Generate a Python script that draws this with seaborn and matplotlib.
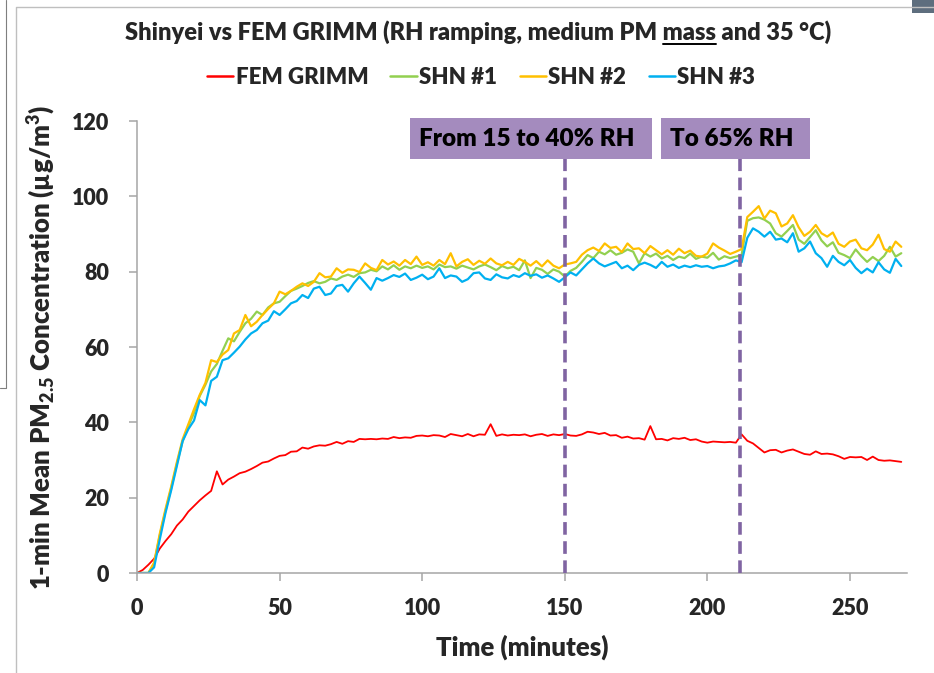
import numpy as np
import pandas as pd
import matplotlib
matplotlib.use("Agg")
import matplotlib.pyplot as plt
import seaborn as sns
from matplotlib.lines import Line2D
from matplotlib.patches import Rectangle

minutes = np.arange(0, 270, 2)

fem_grimm = [
    0, 0.8, 2.2, 3.8, 6.5, 8.5, 10.3, 12.6, 14.2, 16.3,
    17.8, 19.3, 20.6, 21.8, 27.0, 23.5, 24.8, 25.6, 26.5, 26.9,
    27.6, 28.4, 29.3, 29.6, 30.4, 31.1, 31.3, 32.2, 32.3, 33.3,
    33.0, 33.6, 33.9, 33.8, 34.2, 34.8, 34.3, 35.0, 34.8, 35.6,
    35.5, 35.6, 35.5, 35.7, 35.6, 36.1, 35.8, 36.0, 35.9, 36.4,
    36.5, 36.3, 36.6, 36.5, 36.1, 36.9, 36.6, 36.3, 36.9, 36.3,
    36.8, 36.7, 39.5, 36.4, 36.8, 36.5, 36.7, 36.6, 36.8, 36.3,
    36.7, 36.9, 36.4, 36.8, 36.6, 36.9, 36.5, 36.4, 36.8, 37.5,
    37.3, 36.9, 37.2, 36.5, 36.6, 35.9, 36.2, 35.7, 35.8, 35.4,
    39.0, 35.5, 35.6, 35.2, 35.8, 35.6, 35.9, 35.3, 35.5, 34.9,
    34.6, 34.9, 34.8, 34.7, 34.8, 34.6, 36.8, 35.1, 34.4, 33.2,
    32.0, 32.6, 32.7, 32.0, 32.5, 32.8, 32.2, 31.6, 31.4, 32.3,
    31.6, 31.7, 31.5, 31.0, 30.3, 30.8, 30.7, 30.8, 30.0, 30.9,
    30.0, 29.8, 29.9, 29.7, 29.5,
]

shn_1 = [
    0, 0, 0, 2.5, 10, 16.5, 22.5, 29, 35, 39,
    42.5, 47, 50, 53.5, 55.5, 59, 62.3, 61.5, 64, 66.3,
    67.5, 69.4, 68.5, 70.5, 71.6, 72, 73.5, 74.9, 75.5, 76.2,
    77, 77.5, 76.9, 77.3, 78.2, 77.8, 78.7, 79.2, 78.6, 79.6,
    79.8, 80.5, 80.1, 81.4, 80.6, 81.7, 80.5, 81.4, 80.9, 81.6,
    81.0, 81.4, 80.6, 81.9, 81.2, 81.4, 80.8, 81.6, 81.1, 80.6,
    81.4, 81.9, 81.2, 80.4, 81.5, 80.9, 81.3, 80.4, 83.0, 78.3,
    81.0, 80.5, 79.4, 80.6, 80.0, 78.7, 80.2, 81.0, 82.6, 84.4,
    83.6, 85.3, 84.6, 85.7, 84.5, 85.0, 85.9, 85.3, 82.2, 84.9,
    84.0, 84.8, 83.5, 84.2, 83.1, 84.0, 83.6, 84.8, 83.4, 84.0,
    83.7, 85.0, 83.2, 84.1, 83.6, 84.0, 84.4, 93.5, 94.2, 94.4,
    93.8, 92.8, 90.2, 89.3, 90.8, 92.4, 88.5, 87.4, 89.2, 91.0,
    88.3, 86.7, 87.8, 85.0, 84.4, 83.6, 85.9, 84.1, 82.6, 83.9,
    82.8, 84.2, 86.6, 84.0, 84.9,
]

shn_2 = [
    0, 0, 0, 2.8, 10.5, 17, 23, 29.5, 35.5, 39.5,
    43.5, 47.3, 50.5, 56.5, 56.0, 58.0, 59.2, 63.6, 64.5, 68.5,
    65.5, 66.7, 68.5, 70.1, 71.6, 74.7, 74.0, 74.9, 76.0, 76.9,
    76.2, 77.3, 79.6, 78.5, 78.7, 80.9, 79.7, 80.6, 80.5, 79.9,
    82.2, 81.0, 80.4, 83.1, 81.9, 82.7, 81.6, 83.1, 82.0, 84.0,
    81.8, 82.5, 81.6, 83.1, 82.0, 84.9, 81.4, 82.6, 83.3, 81.8,
    82.9, 82.1, 83.5, 82.2, 81.7, 82.6, 81.8, 83.4, 82.6, 81.6,
    82.8, 81.4, 83.0, 81.6, 80.9, 81.9, 82.2, 82.6, 84.5, 85.7,
    86.4, 85.5, 87.5, 86.3, 86.6, 85.2, 87.5, 86.0, 86.2, 84.9,
    86.8, 85.7, 84.6, 85.7, 84.5, 86.1, 84.9, 85.6, 84.2, 84.0,
    84.8, 87.5, 86.4, 85.6, 84.7, 85.3, 86.0, 94.5, 95.9, 97.4,
    94.1, 96.2, 95.5, 92.0, 92.8, 95.0, 91.8, 89.5, 90.6, 92.4,
    90.2, 89.3, 90.4, 87.4, 86.6, 88.0, 88.5, 86.2, 85.7, 87.2,
    89.8, 86.0, 85.3, 88.0, 86.6,
]

shn_3 = [
    0, 0, 0, 1.5, 9, 16, 22, 28.5, 35, 38.2,
    40.5, 45.9, 44.5, 51.0, 52.1, 56.5, 57.0, 58.5, 60.1, 62.0,
    63.6, 64.5, 66.3, 67.0, 69.5, 68.5, 70.0, 71.6, 72.2, 73.8,
    73.0, 75.5, 76.0, 73.8, 74.2, 76.2, 76.5, 74.7, 76.9, 78.7,
    77.0, 75.2, 78.3, 77.6, 78.3, 79.1, 78.6, 79.5, 77.8, 78.4,
    79.2, 78.0, 78.7, 80.9, 78.3, 79.0, 78.7, 77.3, 78.0, 79.6,
    79.8, 78.2, 77.8, 79.3, 78.5, 78.2, 79.1, 78.6, 79.6, 78.9,
    79.3, 78.4, 79.0, 78.2, 77.3, 78.5, 79.8, 79.0, 80.6, 82.2,
    83.5, 82.2, 81.4, 82.0, 82.6, 80.9, 81.6, 80.4, 81.8, 82.4,
    81.8, 81.0, 82.6, 81.3, 81.9, 81.0, 81.6, 81.2, 81.7, 81.3,
    81.5, 80.9, 81.4, 81.6, 82.2, 83.0, 82.5, 89.0, 91.5, 90.6,
    89.3, 90.6, 88.5, 88.8, 87.8, 90.2, 85.3, 86.2, 88.0, 84.9,
    83.6, 81.3, 84.2, 82.6, 81.7, 83.1, 81.0, 79.6, 80.8, 79.8,
    82.5, 80.6, 79.7, 83.4, 81.5,
]

series_names = ["FEM GRIMM", "SHN #1", "SHN #2", "SHN #3"]
series_colors = ["#FF0000", "#92D050", "#FFC000", "#00B0F0"]

# RH step changes (minutes) and their labels
rh_step_times = [150, 211.5]
rh_step_labels = ["From 15 to 40% RH", "To 65% RH"]

df = pd.DataFrame({
    "minutes": minutes,
    "FEM GRIMM": fem_grimm,
    "SHN #1": shn_1,
    "SHN #2": shn_2,
    "SHN #3": shn_3,
}).melt(id_vars="minutes", var_name="sensor", value_name="pm")

sns.set_theme(style="white")
plt.rcParams["font.family"] = ["Lato", "DejaVu Sans"]
plt.rcParams["font.weight"] = "heavy"
plt.rcParams["mathtext.fontset"] = "custom"
plt.rcParams["mathtext.rm"] = "Lato:heavy"
plt.rcParams["mathtext.bf"] = "Lato:heavy"
plt.rcParams["mathtext.it"] = "Lato:heavy"
FW = "heavy"

W, H = 934, 673
fig = plt.figure(figsize=(W / 100, H / 100), dpi=100)
ax = fig.add_axes([137 / W, 1 - 573 / H, (907 - 137) / W, (573 - 121) / H])

palette = dict(zip(series_names, series_colors))
for name in series_names:
    sns.lineplot(data=df[df["sensor"] == name], x="minutes", y="pm",
                 color=palette[name], linewidth=1.3 if name == "FEM GRIMM" else 1.6,
                 ax=ax, legend=False)

ax.set_xlim(0, 270)
ax.set_ylim(0, 120)
ax.set_xticks(range(0, 251, 50))
ax.set_yticks(range(0, 121, 20))
for side in ["top", "right"]:
    ax.spines[side].set_visible(False)
for side in ["left", "bottom"]:
    ax.spines[side].set_color("#A6A6A6")
    ax.spines[side].set_linewidth(1.1)
ax.tick_params(axis="both", which="major", direction="out", length=6, width=1.1,
               color="#A6A6A6", labelsize=15.5, left=True, bottom=True)
ax.tick_params(axis="y", pad=14)
ax.tick_params(axis="x", pad=12)
for lab in ax.get_xticklabels() + ax.get_yticklabels():
    lab.set_fontweight(FW)
ax.set_xlabel("Time (minutes)", fontsize=18.5, fontweight=FW, labelpad=11)
ax.set_ylabel(r"1-min Mean PM$_{2.5}$ Concentration (µg/m$^{3}$)",
              fontsize=18.5, fontweight=FW, labelpad=10)

# RH step markers
box_spans = [(95.7, 180.5), (183.9, 236.0)]
for t, label, (x0, x1) in zip(rh_step_times, rh_step_labels, box_spans):
    ax.plot([t, t], [0, 109.8], color="#8064A2", linewidth=2.6,
            dashes=(3.5, 1.8), clip_on=False, zorder=5)
    ax.add_patch(Rectangle((x0, 109.8), x1 - x0, 11.0, facecolor="#A48BBE",
                           edgecolor="none", clip_on=False, zorder=6))
    ax.text((x0 + x1) / 2 - 1.5, 115.2, label, ha="center", va="center",
            fontsize=17.5, fontweight=FW, color="black", zorder=7)

# legend
handles = [Line2D([], [], color=c, linewidth=1.8) for c in series_colors]
fig.legend(handles, series_names, loc="center", bbox_to_anchor=(481 / W, 1 - 77 / H),
           ncol=4, frameon=False, handlelength=1.2, handletextpad=0.1,
           columnspacing=1.0, prop={"size": 16, "weight": FW})

# title with underlined "mass"
pre, word, post = "Shinyei vs FEM GRIMM (RH ramping, medium PM ", "mass", " and 35 °C)"
title = fig.text(478 / W, 1 - 40 / H, pre + word + post, ha="center", va="baseline",
                 fontsize=17, fontweight=FW)
fig.canvas.draw()
r = fig.canvas.get_renderer()
full = title.get_window_extent(r)
tmp = fig.text(0, 0, pre, fontsize=17, fontweight=FW)
pre_w = tmp.get_window_extent(r).width
tmp.set_text(pre + word)
word_end = tmp.get_window_extent(r).width
tmp.remove()
uy = (1 - 40 / H) - 3.5 / H
fig.add_artist(Line2D([(full.x0 + pre_w) / W, (full.x0 + word_end) / W], [uy, uy],
                      color="black", linewidth=1.4))

# chart frame and screenshot edges
fig.add_artist(Line2D([16 / W, 16 / W, 1], [0, 1 - 7 / H, 1 - 7 / H],
                      color="#BFBFBF", linewidth=1.0))
fig.add_artist(Line2D([0, 6 / W, 6 / W], [1 - 388 / H, 1 - 388 / H, 1],
                      color="#7F7F7F", linewidth=0.8))
fig.add_artist(Rectangle((912 / W, 1 - 13 / H), 22 / W, 13 / H,
                         transform=fig.transFigure, facecolor="#5E6E7E",
                         edgecolor="none"))

fig.savefig("out.png", dpi=100)
